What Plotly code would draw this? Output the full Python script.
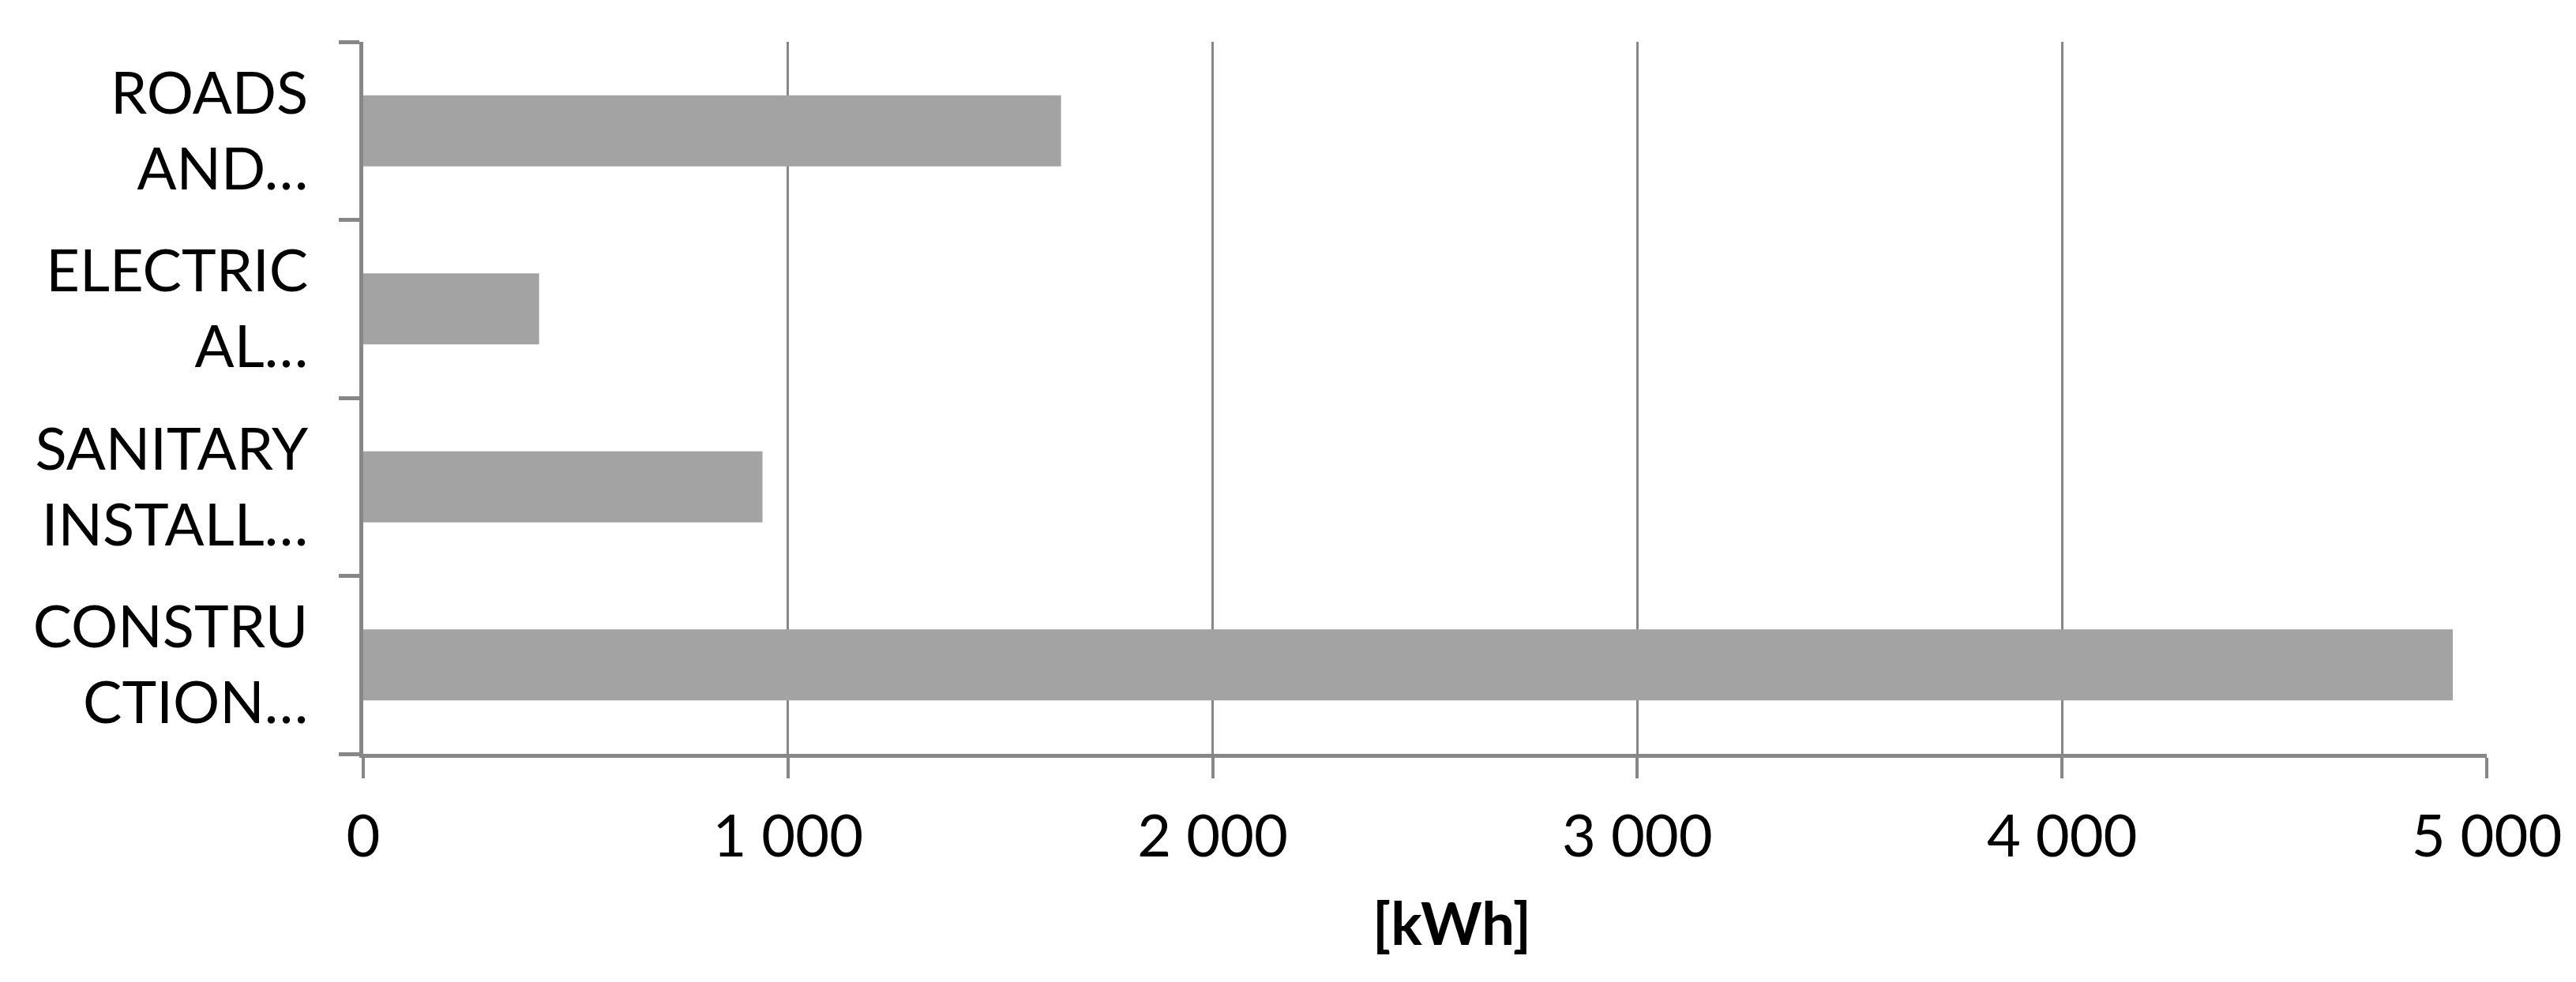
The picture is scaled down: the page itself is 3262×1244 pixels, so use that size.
import plotly.graph_objects as go

# categories bottom-to-top as drawn
categories = ["CONSTRU<br>CTION…", "SANITARY<br>INSTALL…", "ELECTRIC<br>AL…", "ROADS<br>AND…"]
energy_kwh = [4920, 940, 414, 1643]
x_ticks = [0, 1000, 2000, 3000, 4000, 5000]
x_title = "[kWh]"

axis_grey = "#878787"

fig = go.Figure()
fig.add_trace(go.Bar(
    y=categories, x=energy_kwh, orientation="h",
    marker=dict(color="#a3a3a3", line=dict(width=0)),
))

fig.update_layout(
    width=3262, height=1244,
    margin=dict(l=452, r=121, t=45, b=297),
    paper_bgcolor="white", plot_bgcolor="white",
    bargap=0.6, showlegend=False,
    separators=", ",
    font=dict(family="Lato", size=74, color="black"),
)
fig.update_xaxes(
    range=[0, 5000], tickvals=x_ticks, tickformat=",d",
    showgrid=True, gridcolor=axis_grey, gridwidth=3,
    showline=True, linecolor=axis_grey, linewidth=5,
    ticks="outside", ticklen=26, tickwidth=4, tickcolor=axis_grey,
    ticklabelstandoff=10, zeroline=False,
)
fig.update_yaxes(
    range=[-0.5, 3.5], tickson="boundaries",
    showgrid=False, showline=True, linecolor=axis_grey, linewidth=5,
    ticks="outside", ticklen=26, tickwidth=5, tickcolor=axis_grey,
    ticklabelstandoff=50,
)
# axis title sits slightly right of the plot centre in the original
fig.add_annotation(
    text="<b>" + x_title + "</b>", xref="paper", yref="paper",
    x=0.5125, y=-0.185, xanchor="center", yanchor="top",
    showarrow=False, font=dict(size=74),
)

fig.write_html("out.html")
